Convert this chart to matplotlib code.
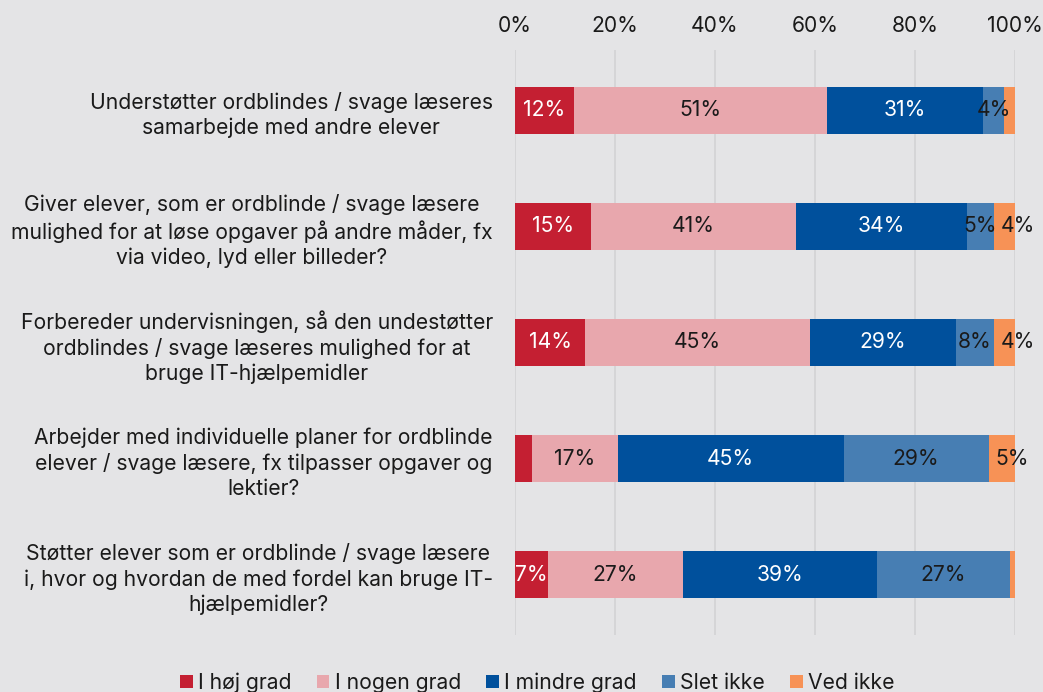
import matplotlib
matplotlib.use("Agg")
import matplotlib.pyplot as plt
import numpy as np

plt.rcParams['font.family'] = ['Inter', 'DejaVu Sans']

categories = [
    "Understøtter ordblindes / svage læseres\nsamarbejde med andre elever",
    "Giver elever, som er ordblinde / svage læsere\nmulighed for at løse opgaver på andre måder, fx\nvia video, lyd eller billeder?",
    "Forbereder undervisningen, så den undestøtter\nordblindes / svage læseres mulighed for at\nbruge IT-hjælpemidler",
    "Arbejder med individuelle planer for ordblinde\nelever / svage læsere, fx tilpasser opgaver og\nlektier?",
    "Støtter elever som er ordblinde / svage læsere\ni, hvor og hvordan de med fordel kan bruge IT-\nhjælpemidler?",
]
series_names = ["I høj grad", "I nogen grad", "I mindre grad", "Slet ikke", "Ved ikke"]
values = {
    "I høj grad":    [11.8, 15.1, 14.0, 3.3, 6.6],
    "I nogen grad":  [50.6, 41.0, 45.0, 17.2, 27.0],
    "I mindre grad": [31.2, 34.2, 29.2, 45.2, 38.8],
    "Slet ikke":     [4.2, 5.4, 7.6, 29.0, 26.6],
    "Ved ikke":      [2.2, 4.3, 4.2, 5.3, 1.0],
}
colors = ["#C41F32", "#E8A7AD", "#00509C", "#477EB3", "#F79256"]
text_colors = ["white", "#1a1a1a", "white", "#1a1a1a", "#1a1a1a"]
xticks = [0, 20, 40, 60, 80, 100]
xticklabels = ["0%", "20%", "40%", "60%", "80%", "100%"]

FS = 15.2
bg = "#E4E4E6"
fig = plt.figure(figsize=(10.43, 6.92), dpi=100, facecolor=bg)
ax = fig.add_axes([515/1043, 1-635/692, 500/1043, 585/692], facecolor=bg)

y = np.arange(len(categories))
left = np.zeros(len(categories))
handles = []
for si, (name, c, tc) in enumerate(zip(series_names, colors, text_colors)):
    v = np.array(values[name])
    bars = ax.barh(y, v, left=left, height=0.4, color=c, label=name, zorder=3)
    handles.append(bars)
    for yi, (l, w) in enumerate(zip(left, v)):
        if w >= 3.5:
            if si == len(series_names) - 1:
                ax.text(l + 1.4, yi, f"{w:.0f}%", ha="left", va="center",
                        color=tc, fontsize=FS, zorder=4)
            else:
                ax.text(l + w/2, yi, f"{w:.0f}%", ha="center", va="center",
                        color=tc, fontsize=FS, zorder=4)
    left += v

ax.set_xlim(0, 100)
ax.set_ylim(4.52, -0.52)
ax.set_xticks(xticks)
ax.set_xticklabels(xticklabels, fontsize=FS, color="#1a1a1a")
ax.xaxis.tick_top()
ax.tick_params(axis="x", length=0, pad=10)
ax.set_yticks(y)
ax.set_yticklabels(categories, fontsize=FS, color="#1a1a1a",
                   multialignment="center", linespacing=1.3)
ax.tick_params(axis="y", length=0, pad=16)
for s in ax.spines.values():
    s.set_visible(False)
ax.grid(axis="x", color="#D2D2D4", linewidth=1.2, zorder=0)
ax.set_axisbelow(True)

leg = fig.legend(handles=handles, labels=series_names, loc="lower center",
                 bbox_to_anchor=(0.515, -0.029), ncol=5, frameon=False,
                 fontsize=FS, handlelength=0.6, handleheight=0.6,
                 handletextpad=0.25, columnspacing=1.2)
for t in leg.get_texts():
    t.set_color("#1a1a1a")

fig.savefig("out.png", dpi=100, facecolor=bg)
